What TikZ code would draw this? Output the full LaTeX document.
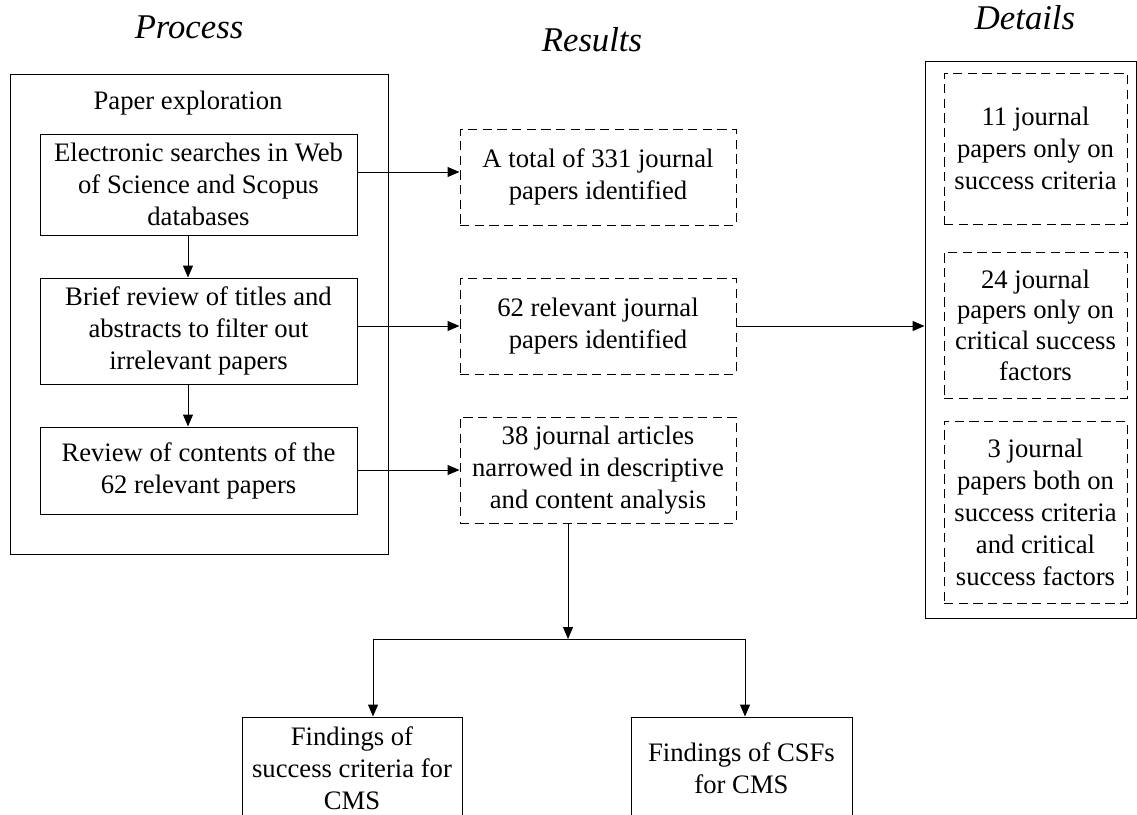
\documentclass[tikz,border=0pt]{standalone}
\usepackage{fontspec}
\setmainfont{Liberation Serif}
\usetikzlibrary{arrows.meta}
\begin{document}
\begin{tikzpicture}[x=0.75pt,y=-0.75pt,
  every node/.style={font=\fontsize{20}{24}\selectfont, align=center, inner sep=0pt},
  solidbox/.style={draw, line width=0.75pt, rectangle},
  dashbox/.style={draw, line width=0.75pt, dash pattern=on 7pt off 4pt},
  arr/.style={line width=0.75pt, -{Triangle[length=9pt,width=7.5pt]}},
  title/.style={font=\fontsize{26}{30}\selectfont\itshape, anchor=base}]

\useasboundingbox (0,0) rectangle (1137,814);
\clip (0,0) rectangle (1137,814);

% column headings
\node[title] (tp) at (189,38) {Process};
\node[title] (tr) at (592,51) {Results};
\node[title] (td) at (1025,29) {Details};

% process column
\node[solidbox, minimum width=283.5pt, minimum height=360pt] (proc) at (199,314) {};
\node (pe) at (188,103) {Paper exploration};
\node[solidbox, minimum width=237.75pt, minimum height=75.75pt] (p1) at (198.5,184.5)
  {Electronic searches in Web\\of Science and Scopus\\databases};
\node[solidbox, minimum width=237.75pt, minimum height=79.5pt] (p2) at (198.5,331)
  {Brief review of titles and\\abstracts to filter out\\irrelevant papers};
\node[solidbox, minimum width=237.75pt, minimum height=65.25pt] (p3) at (198.5,470.5)
  {Review of contents of the\\62 relevant papers};

% results column
\node[dashbox, minimum width=207pt, minimum height=72pt] (r1) at (598,177)
  {A total of 331 journal\\papers identified};
\node[dashbox, minimum width=207pt, minimum height=72pt] (r2) at (598,326)
  {62 relevant journal\\papers identified};
\node[dashbox, minimum width=207pt, minimum height=79.5pt] (r3) at (598,470)
  {38 journal articles\\narrowed in descriptive\\and content analysis};

% details column
\node[solidbox, minimum width=158.25pt, minimum height=417.75pt] (det) at (1030.5,339.5) {};
\node[dashbox, minimum width=137.25pt, minimum height=113.25pt] (d1) at (1035.5,148.5)
  {11 journal\\papers only on\\success criteria};
\node[dashbox, minimum width=137.25pt, minimum height=109.5pt, font=\fontsize{20}{23}\selectfont] (d2) at (1035.5,325)
  {24 journal\\papers only on\\critical success\\factors};
\node[dashbox, minimum width=137.25pt, minimum height=136.5pt] (d3) at (1035.5,512)
  {3 journal\\papers both on\\success criteria\\and critical\\success factors};

% findings
\node[solidbox, minimum width=165pt, minimum height=76.5pt] (f1) at (352,768)
  {Findings of\\success criteria for\\CMS};
\node[solidbox, minimum width=165.75pt, minimum height=76.5pt] (f2) at (741.5,768)
  {Findings of CSFs\\for CMS};

% connectors
\coordinate (ax) at (188,0);
\draw[arr] (p1.south -| ax) -- (p2.north -| ax);
\draw[arr] (p2.south -| ax) -- (p3.north -| ax);

\coordinate (y1) at (0,172);
\coordinate (y2) at (0,326);
\coordinate (y3) at (0,470);
\draw[arr] (p1.east |- y1) -- (r1.west |- y1);
\draw[arr] (p2.east |- y2) -- (r2.west |- y2);
\draw[arr] (p3.east |- y3) -- (r3.west |- y3);
\draw[arr] (r2.east) -- (det.west |- r2.east);

\coordinate (jn) at (568,639);
\coordinate (jl) at (373,639);
\coordinate (jr) at (745,639);
\draw[arr] (r3.south -| jn) -- (jn);
\draw[arr] (jn) -- (jl) -- (f1.north -| jl);
\draw[arr] (jn) -- (jr) -- (f2.north -| jr);
\end{tikzpicture}
\end{document}
